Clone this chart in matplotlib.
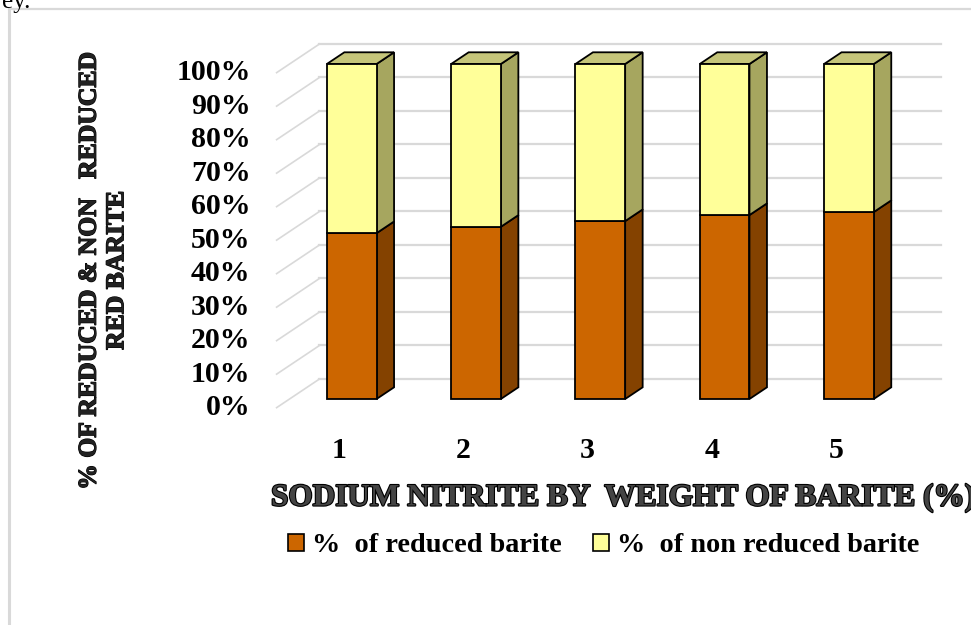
import matplotlib
matplotlib.use("Agg")
import matplotlib.pyplot as plt
from matplotlib.patches import Polygon, Patch
from matplotlib import patheffects as pe

# ---- data ----
categories = ["1", "2", "3", "4", "5"]
reduced = [49.5, 51.4, 53.1, 54.9, 55.8]          # % of reduced barite
non_reduced = [100 - v for v in reduced]          # % of non reduced barite
y_ticks = [0, 10, 20, 30, 40, 50, 60, 70, 80, 90, 100]
y_tick_labels = [f"{t}%" for t in y_ticks]
series_names = ["%  of reduced barite", "%  of non reduced barite"]
x_title = "SODIUM NITRITE BY  WEIGHT OF BARITE (%)"
y_title = "% OF REDUCED & NON   REDUCED\nRED BARITE"

# ---- styling ----
SERIF = ["Liberation Serif", "DejaVu Serif"]
RED_FRONT, RED_SIDE = "#cc6600", "#844200"
YEL_FRONT, YEL_SIDE, YEL_TOP = "#ffff99", "#a6a65f", "#c5c57a"
GRID = "#d9d9d9"
BAR_W = 0.40

W, H = 971, 625
fig = plt.figure(figsize=(W / 100, H / 100), dpi=100)
fig.patch.set_facecolor("white")

# axes whose data plane is the front face of the columns
ax_l, ax_r, ax_t, ax_b = 270, 945, 64, 399
ax = fig.add_axes([ax_l / W, 1 - ax_b / H, (ax_r - ax_l) / W, (ax_b - ax_t) / H])
xpos = list(range(1, len(categories) + 1))
px_per_x = 124.3
x0 = xpos[0] - (351.7 - ax_l) / px_per_x
ax.set_xlim(x0, x0 + (ax_r - ax_l) / px_per_x)
ax.set_ylim(0, 100)
ax.axis("off")

# oblique depth projection (one depth unit = column thickness)
DX = 17.5 / px_per_x
DY = 11.7 / ((ax_b - ax_t) / 100)


def proj(x, y, z):
    return (x + z * DX, y + z * DY)


Z_BACK, Z_FRONT = 1.71, -0.74
X_LEFT, X_RIGHT = 0.5, 5.5

# back wall gridlines and side wall lines
for t in y_ticks:
    a = proj(X_LEFT, t, Z_BACK)
    b = proj(X_RIGHT, t, Z_BACK)
    ax.plot([a[0], b[0]], [a[1], b[1]], color=GRID, lw=1.6, clip_on=False, zorder=1)
    c = proj(X_LEFT, t, Z_FRONT)
    ax.plot([c[0], a[0]], [c[1], a[1]], color=GRID, lw=1.2, clip_on=False, zorder=1)


def face(pts, fc, z=3):
    ax.add_patch(Polygon(pts, closed=True, facecolor=fc, edgecolor="black",
                         lw=1.3, joinstyle="miter", clip_on=False, zorder=z))


for x, r, n in zip(xpos, reduced, non_reduced):
    xl, xr = x - BAR_W / 2, x + BAR_W / 2
    segs = [(0, r, RED_FRONT, RED_SIDE), (r, r + n, YEL_FRONT, YEL_SIDE)]
    for lo, hi, fc, sc in segs:
        face([proj(xr, lo, 0), proj(xr, lo, 1), proj(xr, hi, 1), proj(xr, hi, 0)], sc)
        face([proj(xl, lo, 0), proj(xr, lo, 0), proj(xr, hi, 0), proj(xl, hi, 0)], fc, 4)
    top = r + n
    face([proj(xl, top, 0), proj(xr, top, 0), proj(xr, top, 1), proj(xl, top, 1)], YEL_TOP)

# tick labels on the front edge of the floor/side wall
for t, lab in zip(y_ticks, y_tick_labels):
    px, py = proj(X_LEFT, t, Z_FRONT)
    ax.text(px - 26 / px_per_x, py, lab, ha="right", va="center",
            family=SERIF, fontweight="bold", fontsize=21.5, clip_on=False)

for x, lab in zip(xpos, categories):
    px, py = proj(x, 0, Z_FRONT)
    ax.text(px, py - 43 / 3.35, lab, ha="center", va="center",
            family=SERIF, fontweight="bold", fontsize=21.5, clip_on=False)

emboss = [pe.withStroke(linewidth=1.6, foreground="black")]

fig.text(271 / W, 1 - 498 / H, x_title, ha="left", va="center",
         family=SERIF, fontweight="bold", fontsize=22.5, color="#444444",
         path_effects=emboss)

fig.text(103 / W, 1 - 270 / H, y_title, ha="center", va="center",
         rotation=90, multialignment="center", linespacing=1.25,
         family=SERIF, fontweight="bold", fontsize=18.5, color="#222222",
         path_effects=[pe.withStroke(linewidth=0.9, foreground="black")])

handles = [Patch(facecolor=RED_FRONT, edgecolor="black", lw=1.2),
           Patch(facecolor=YEL_FRONT, edgecolor="black", lw=1.2)]
fig.legend(handles, series_names, loc="center", ncol=2,
           bbox_to_anchor=(604 / W, 1 - 546 / H), frameon=False,
           prop={"family": SERIF, "weight": "bold", "size": 20.3},
           handlelength=0.55, handleheight=0.55, handletextpad=0.3,
           columnspacing=1.1, borderpad=0)

# outer frame lines and clipped caption fragment
fig.add_artist(plt.Line2D([8.5 / W, 8.5 / W], [0, 1 - 9 / H], color=GRID, lw=2.2,
                          transform=fig.transFigure))
fig.add_artist(plt.Line2D([8.5 / W, 1], [1 - 9 / H, 1 - 9 / H], color=GRID, lw=1.6,
                          transform=fig.transFigure))
fig.text(2 / W, 1 + 9 / H, "ey.", ha="left", va="top", family=SERIF, fontsize=18)

fig.savefig("out.png", dpi=100, facecolor="white")
